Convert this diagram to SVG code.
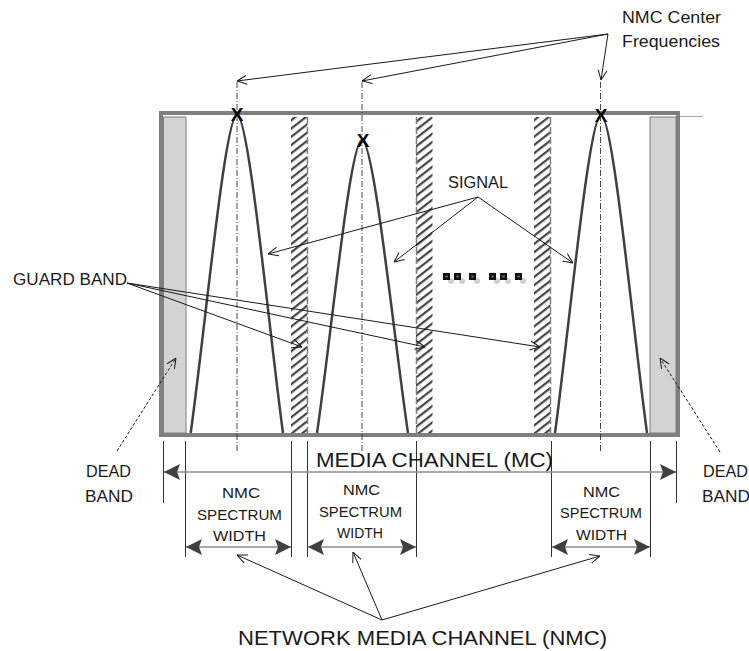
<svg xmlns="http://www.w3.org/2000/svg" width="749" height="651" viewBox="0 0 749 651">
<style>
text{font-family:"Liberation Sans",Arial,sans-serif;fill:#1a1a1a}
.lbl{font-size:16.5px}
.big{font-size:21px}
.sm{font-size:15.5px}
.x{font-size:19px;font-weight:bold;fill:#000}
.ann{stroke:#1a1a1a;stroke-width:1;fill:none;marker-end:url(#open)}
.dd{stroke:#1a1a1a;stroke-width:1;fill:none;stroke-dasharray:3,2;marker-end:url(#open)}
.cf{stroke:#333;stroke-width:0.9;stroke-dasharray:6,2,1,2;fill:none}
.br{stroke:#333;stroke-width:1;fill:none}
.sig{stroke:#404040;stroke-width:2.5;fill:none}
.dead{fill:#d3d3d3;stroke:#7f7f7f;stroke-width:1}
.dim{stroke:#8c8c8c;stroke-width:1.5;fill:none;marker-start:url(#fill);marker-end:url(#fill)}
.hedge{stroke:#808080;stroke-width:1.5;stroke-dasharray:7,3;fill:none}
</style>
<defs>
<marker id="open" viewBox="0 0 10 10" refX="10" refY="5" markerUnits="userSpaceOnUse" markerWidth="10" markerHeight="11" orient="auto">
<path d="M0,0.5 L10,5 L0,9.5" fill="none" stroke="#1a1a1a" stroke-width="1"/>
</marker>
<marker id="fill" viewBox="0 0 16 16" refX="16" refY="8" markerUnits="userSpaceOnUse" markerWidth="16" markerHeight="16" orient="auto-start-reverse">
<path d="M0,0 L16,8 L0,16 L3,8 z" fill="#404040"/>
</marker>
<pattern id="hatch" patternUnits="userSpaceOnUse" width="12" height="6.5" patternTransform="rotate(-38)">
<rect x="0" y="0" width="12" height="2.2" fill="#444"/>
</pattern>
</defs>

<g id="media-channel">
<line x1="678" y1="116.5" x2="703" y2="116.5" stroke="#a6a6a6" stroke-width="1"/>
<rect x="163.5" y="117" width="22.5" height="316" class="dead" id="dead-band-left"/>
<rect x="650" y="117" width="26" height="316" class="dead" id="dead-band-right"/>
</g>

<g id="guard-bands">
<rect x="291" y="117" width="16.5" height="316" fill="url(#hatch)"/>
<rect x="416" y="117" width="16.5" height="316" fill="url(#hatch)"/>
<rect x="534" y="117" width="16.5" height="316" fill="url(#hatch)"/>
<line x1="307.5" y1="117" x2="307.5" y2="433" class="hedge"/>
<line x1="416.5" y1="117" x2="416.5" y2="433" class="hedge"/>
<line x1="550.5" y1="117" x2="550.5" y2="433" class="hedge"/>
</g>

<g id="signals">
<path class="sig" d="M190.7,433 C205,330 225,115 237,115 C249,115 269,330 283,433"/>
<path class="sig" d="M317,433 C331,338 350,140 362,140 C374,140 394,338 408,433"/>
<path class="sig" d="M555,433 C569,330 589,115 601,115 C613,115 633,330 647,433"/>
</g>

<g id="border">
<rect x="161" y="113" width="517" height="322" fill="none" stroke="#7f7f7f" stroke-width="4"/>
</g>

<g id="x-marks">
<text class="x" x="237" y="121" text-anchor="middle">X</text>
<text class="x" x="363" y="147" text-anchor="middle">X</text>
<text class="x" x="601" y="122" text-anchor="middle">X</text>
</g>

<g id="ellipsis">
<g fill="#d0d0d0">
<circle cx="451" cy="281" r="3"/><circle cx="462" cy="281" r="3"/><circle cx="477" cy="281" r="3"/>
<circle cx="497" cy="281" r="3"/><circle cx="508" cy="281" r="3"/><circle cx="523" cy="281" r="3"/>
</g>
<g fill="#111">
<rect x="443" y="273" width="7" height="7"/><rect x="454" y="273" width="7" height="7"/><rect x="469" y="273" width="7" height="7"/>
<rect x="489" y="273" width="7" height="7"/><rect x="500" y="273" width="7" height="7"/><rect x="515" y="273" width="7" height="7"/>
</g>
<g fill="#666">
<circle cx="446.5" cy="276.5" r="1.3"/><circle cx="457.5" cy="276.5" r="1.3"/><circle cx="472.5" cy="276.5" r="1.3"/>
<circle cx="492.5" cy="276.5" r="1.3"/><circle cx="503.5" cy="276.5" r="1.3"/><circle cx="518.5" cy="276.5" r="1.3"/>
</g>
</g>

<g id="connectors">
<line class="cf" x1="237" y1="82" x2="237" y2="452"/>
<line class="cf" x1="362" y1="82" x2="362" y2="452"/>
<line class="cf" x1="600.5" y1="82" x2="600.5" y2="452"/>
<line class="ann" x1="608" y1="34" x2="237" y2="81"/>
<line class="ann" x1="608" y1="34" x2="362" y2="81"/>
<line class="ann" x1="608" y1="34" x2="601" y2="80"/>
<line class="ann" x1="478" y1="197" x2="268" y2="254"/>
<line class="ann" x1="478" y1="197" x2="394" y2="262"/>
<line class="ann" x1="478" y1="197" x2="573" y2="263"/>
<line class="ann" x1="127" y1="283" x2="302" y2="347"/>
<line class="ann" x1="127" y1="283" x2="425" y2="347"/>
<line class="ann" x1="127" y1="283" x2="540" y2="347"/>
<line class="dd" x1="117" y1="451" x2="176" y2="358"/>
<line class="dd" x1="720" y1="452" x2="660" y2="358"/>
<line class="ann" x1="382" y1="620" x2="237" y2="555"/>
<line class="ann" x1="382" y1="620" x2="353" y2="552"/>
<line class="ann" x1="382" y1="620" x2="600" y2="556"/>
<line class="br" x1="163.5" y1="441" x2="163.5" y2="503"/>
<line class="br" x1="185.5" y1="441" x2="185.5" y2="557"/>
<line class="br" x1="291.5" y1="441" x2="291.5" y2="557"/>
<line class="br" x1="307.5" y1="441" x2="307.5" y2="557"/>
<line class="br" x1="416.5" y1="441" x2="416.5" y2="557"/>
<line class="br" x1="551.5" y1="441" x2="551.5" y2="557"/>
<line class="br" x1="650.5" y1="441" x2="650.5" y2="557"/>
<line class="br" x1="676.5" y1="441" x2="676.5" y2="503"/>
<line class="dim" x1="164" y1="472" x2="676" y2="472"/>
<line class="dim" x1="186" y1="547" x2="291" y2="547"/>
<line class="dim" x1="308" y1="547" x2="416" y2="547"/>
<line class="dim" x1="552" y1="547" x2="650" y2="547"/>
</g>

<g id="labels">
<text class="lbl" x="622" y="23" textLength="99" lengthAdjust="spacingAndGlyphs" style="font-size:17px">NMC Center</text>
<text class="lbl" x="622" y="47" textLength="98" lengthAdjust="spacingAndGlyphs" style="font-size:17px">Frequencies</text>
<text class="lbl" x="448" y="188" textLength="60" lengthAdjust="spacingAndGlyphs">SIGNAL</text>
<text class="lbl" x="13" y="285" textLength="114" lengthAdjust="spacingAndGlyphs">GUARD BAND</text>
<text class="lbl" x="86" y="477" textLength="45" lengthAdjust="spacingAndGlyphs">DEAD</text>
<text class="lbl" x="85" y="502" textLength="48" lengthAdjust="spacingAndGlyphs">BAND</text>
<text class="lbl" x="703" y="477" textLength="45" lengthAdjust="spacingAndGlyphs">DEAD</text>
<text class="lbl" x="702" y="502" textLength="48" lengthAdjust="spacingAndGlyphs">BAND</text>
<text class="big" x="316" y="467" textLength="237" lengthAdjust="spacingAndGlyphs">MEDIA CHANNEL (MC)</text>
<text class="big" x="238" y="645" textLength="369" lengthAdjust="spacingAndGlyphs">NETWORK MEDIA CHANNEL (NMC)</text>
</g>

<g id="nmc-width-1">
<text class="sm" x="222" y="498" textLength="38" lengthAdjust="spacingAndGlyphs">NMC</text>
<text class="sm" x="197" y="520" textLength="85" lengthAdjust="spacingAndGlyphs">SPECTRUM</text>
<text class="sm" x="213" y="541" textLength="53" lengthAdjust="spacingAndGlyphs">WIDTH</text>
</g>
<g id="nmc-width-2">
<text class="sm" x="343" y="495" textLength="37" lengthAdjust="spacingAndGlyphs">NMC</text>
<text class="sm" x="319" y="517" textLength="83" lengthAdjust="spacingAndGlyphs">SPECTRUM</text>
<text class="sm" x="337" y="538" textLength="46" lengthAdjust="spacingAndGlyphs">WIDTH</text>
</g>
<g id="nmc-width-3">
<text class="sm" x="583" y="497" textLength="37" lengthAdjust="spacingAndGlyphs">NMC</text>
<text class="sm" x="560" y="518" textLength="82" lengthAdjust="spacingAndGlyphs">SPECTRUM</text>
<text class="sm" x="576" y="540" textLength="51" lengthAdjust="spacingAndGlyphs">WIDTH</text>
</g>
</svg>
